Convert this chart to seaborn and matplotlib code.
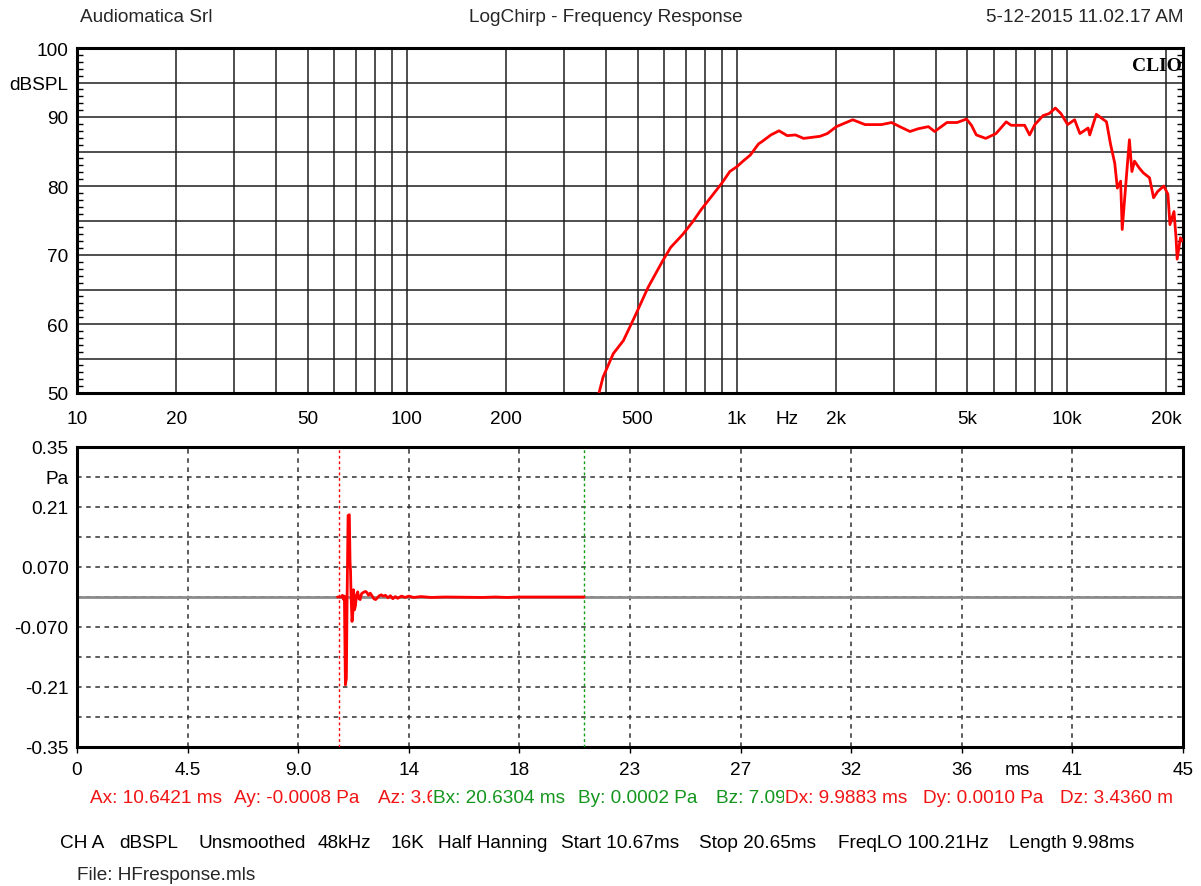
import matplotlib
matplotlib.use("Agg")
import matplotlib.pyplot as plt
import matplotlib.ticker as mticker
import numpy as np
import seaborn as sns

# ---- frequency response (LogChirp) ----
freq_hz = [382, 393, 422, 453, 494, 538, 595, 630, 686, 737, 780, 838, 900, 952,
           1000, 1038, 1099, 1163, 1197, 1268, 1342, 1421, 1505, 1593, 1786, 1880,
           2002, 2245, 2446, 2742, 2944, 3118, 3347, 3545, 3807, 3976, 4330, 4650,
           4966, 5140, 5318, 5680, 6100, 6553, 6780, 7450, 7713, 8003, 8472, 8845,
           9234, 9600, 10058, 10560, 10957, 11600, 11736, 12287, 13193, 13577,
           13974, 14230, 14560, 14720, 15220, 15480, 15750, 16040, 16580, 17060,
           17810, 18320, 18850, 19680, 20250, 20540, 21130, 21430, 21600, 22100,
           22500]
spl_db = [50.0, 52.3, 55.7, 57.6, 61.4, 65.3, 69.1, 71.1, 73.0, 74.9, 76.6, 78.5,
          80.4, 82.1, 82.8, 83.5, 84.5, 86.1, 86.5, 87.4, 88.0, 87.3, 87.4, 86.9,
          87.2, 87.6, 88.6, 89.6, 88.9, 88.9, 89.2, 88.6, 87.9, 88.3, 88.6, 87.9,
          89.2, 89.2, 89.7, 88.8, 87.4, 86.9, 87.6, 89.3, 88.8, 88.8, 87.4, 88.9,
          90.2, 90.5, 91.3, 90.5, 88.9, 89.6, 87.6, 88.4, 87.4, 90.4, 89.3, 86.0,
          83.3, 79.7, 80.7, 73.7, 82.4, 86.7, 82.1, 83.6, 82.6, 81.9, 81.2, 78.3,
          79.2, 80.0, 78.8, 74.4, 76.3, 72.5, 69.4, 72.5, 72.0]

freq_tick_values = [10, 20, 50, 100, 200, 500, 1000, 2000, 5000, 10000, 20000]
freq_tick_labels = ["10", "20", "50", "100", "200", "500", "1k", "2k", "5k", "10k", "20k"]
spl_tick_values = [50, 55, 60, 65, 70, 75, 80, 85, 90, 95, 100]
spl_tick_labels = ["50", "", "60", "", "70", "", "80", "", "90", "dBSPL", "100"]

# ---- impulse response ----
imp_ms = [10.60, 10.75, 10.80, 10.85, 10.88, 10.92, 10.96, 10.99, 11.03, 11.08,
          11.11, 11.13, 11.15, 11.19, 11.22, 11.25, 11.29, 11.33, 11.37, 11.42,
          11.47, 11.52, 11.58, 11.66, 11.74, 11.80, 11.86, 11.93, 12.00, 12.08,
          12.15, 12.22, 12.30, 12.38, 12.47, 12.55, 12.65, 12.75, 12.85, 12.95,
          13.05, 13.20, 13.35, 13.50, 13.70, 14.00, 14.40, 15.00, 16.50, 17.00,
          17.50, 18.00, 20.63]
imp_pa = [0.0, 0.0, 0.004, -0.006, 0.002, -0.205, -0.190, 0.0, 0.190, 0.192,
          0.080, 0.060, 0.005, -0.057, -0.040, 0.017, -0.030, -0.020, 0.004, 0.012,
          -0.004, -0.006, 0.008, 0.011, 0.013, 0.010, 0.004, 0.009, 0.003, -0.004,
          -0.006, -0.002, 0.003, 0.005, 0.002, 0.004, -0.002, 0.003, -0.004, 0.001,
          -0.003, 0.002, -0.001, 0.002, -0.001, 0.001, -0.001, 0.0, -0.001, 0.0,
          -0.001, 0.0, 0.0]

time_tick_values = [0, 4.5, 9.0, 13.5, 18.0, 22.5, 27.0, 31.5, 36.0, 40.5, 45.0]
time_tick_labels = ["0", "4.5", "9.0", "14", "18", "23", "27", "32", "36", "41", "45"]
pa_tick_values = [-0.35, -0.28, -0.21, -0.14, -0.07, 0.0, 0.07, 0.14, 0.21, 0.28, 0.35]
pa_tick_labels = ["-0.35", "", "-0.21", "", "-0.070", "", "0.070", "", "0.21", "Pa", "0.35"]

cursor_a_ms = 10.6421
cursor_b_ms = 20.6304

sns.set_theme(style="white")
plt.rcParams["font.family"] = ["Liberation Sans", "DejaVu Sans"]
FS = 13.7
plt.rcParams["font.size"] = FS

RED = "#ff0000"
TXT_RED = "#f01414"
TXT_GREEN = "#14961e"
W, H = 1201, 887

fig = plt.figure(figsize=(W / 100, H / 100), dpi=100)
fig.patch.set_facecolor("white")


def frac(x, y):
    return x / W, 1 - y / H


ax1 = fig.add_axes([77 / W, 1 - 394 / H, 1106 / W, 345 / H])
ax2 = fig.add_axes([77 / W, 1 - 748 / H, 1106 / W, 300 / H])

# ---------- top panel ----------
ax1.set_xscale("log")
sns.lineplot(x=freq_hz, y=spl_db, ax=ax1, color=RED, lw=2, sort=False,
             estimator=None, zorder=5)
ax1.set_xlim(10, 22500)
ax1.set_ylim(50, 100)
ax1.xaxis.set_major_locator(mticker.FixedLocator(freq_tick_values))
ax1.xaxis.set_major_formatter(mticker.FixedFormatter(freq_tick_labels))
ax1.xaxis.set_minor_locator(mticker.LogLocator(base=10, subs=np.arange(1, 10), numticks=30))
ax1.xaxis.set_minor_formatter(mticker.NullFormatter())
ax1.yaxis.set_major_locator(mticker.FixedLocator(spl_tick_values))
ax1.yaxis.set_major_formatter(mticker.FixedFormatter(spl_tick_labels))
ax1.yaxis.set_minor_locator(mticker.MultipleLocator(1))
ax1.grid(True, which="both", axis="x", color="#1e1e1e", lw=1.1)
ax1.grid(True, which="major", axis="y", color="#1e1e1e", lw=1.1)
ax1.tick_params(axis="x", which="both", length=0, pad=12, labelsize=FS, colors="black")
ax1.tick_params(axis="y", which="major", length=0, pad=6, labelsize=FS, colors="black")
ax1.tick_params(axis="y", which="minor", direction="in", left=True, right=True,
                length=4, width=1, color="black")
ax1.set_xlabel("")
ax1.set_ylabel("")
for s in ax1.spines.values():
    s.set_color("black")
    s.set_linewidth(2.2)
ax1.set_axisbelow(True)
ax1.annotate("Hz", xy=(1420, 0), xycoords=ax1.get_xaxis_transform(),
             xytext=(0, -12), textcoords="offset points", ha="center", va="top",
             fontsize=FS, color="black")
ax1.text(0.999, 0.975, "CLIO", transform=ax1.transAxes, ha="right", va="top",
         fontfamily="Liberation Serif", fontweight="bold", fontsize=14, color="black",
         zorder=6)

# ---------- bottom panel ----------
ax2.axhline(0, color="#8c8c8c", lw=2, zorder=2)
sns.lineplot(x=imp_ms, y=imp_pa, ax=ax2, color=RED, lw=2, sort=False,
             estimator=None, zorder=5)
ax2.axvline(cursor_a_ms, color=RED, lw=1, ls=(0, (2, 2)), zorder=3)
ax2.axvline(cursor_b_ms, color="#10a010", lw=1, ls=(0, (2, 2)), zorder=3)
ax2.set_xlim(0, 45)
ax2.set_ylim(-0.35, 0.35)
ax2.xaxis.set_major_locator(mticker.FixedLocator(time_tick_values))
ax2.xaxis.set_major_formatter(mticker.FixedFormatter(time_tick_labels))
ax2.yaxis.set_major_locator(mticker.FixedLocator(pa_tick_values))
ax2.yaxis.set_major_formatter(mticker.FixedFormatter(pa_tick_labels))
ax2.grid(True, which="major", color="#303030", lw=1.1, ls=(0, (3, 3)))
ax2.tick_params(axis="x", which="major", direction="out", bottom=True, length=4,
                width=1, color="black", pad=6, labelsize=FS, colors="black")
ax2.tick_params(axis="y", which="major", length=0, pad=6, labelsize=FS, colors="black")
ax2.set_xlabel("")
ax2.set_ylabel("")
for s in ax2.spines.values():
    s.set_color("black")
    s.set_linewidth(2.2)
ax2.set_axisbelow(True)
ax2.annotate("ms", xy=(38.25, 0), xycoords=ax2.get_xaxis_transform(),
             xytext=(0, -10), textcoords="offset points", ha="center", va="top",
             fontsize=FS, color="black")

# ---------- header ----------
fig.text(*frac(80, 17), "Audiomatica Srl", ha="left", va="center", fontsize=FS)
fig.text(*frac(606, 17), "LogChirp - Frequency Response", ha="center", va="center", fontsize=FS)
fig.text(*frac(1183, 17), "5-12-2015 11.02.17 AM", ha="right", va="center", fontsize=FS)

# ---------- cursor readout ----------
readout = [
    (90, "Ax: 10.6421 ms", TXT_RED),
    (234, "Ay: -0.0008 Pa", TXT_RED),
    (378, "Az: 3.6", TXT_RED),
    (433, "Bx: 20.6304 ms", TXT_GREEN),
    (578, "By: 0.0002 Pa", TXT_GREEN),
    (716, "Bz: 7.09", TXT_GREEN),
    (785, "Dx: 9.9883 ms", TXT_RED),
    (923, "Dy: 0.0010 Pa", TXT_RED),
    (1060, "Dz: 3.4360 m", TXT_RED),
]
for x, s, c in readout:
    bbox = None
    if s.startswith("Bx") or s.startswith("Dx"):
        bbox = dict(facecolor="white", edgecolor="none", pad=0.5)
    fig.text(*frac(x, 798.5), s, ha="left", va="center", fontsize=FS, color=c, bbox=bbox)

# ---------- acquisition settings ----------
settings = [
    (60, "CH A"), (119, "dBSPL"), (198, "Unsmoothed"), (318, "48kHz"), (391, "16K"),
    (438, "Half Hanning"), (561, "Start 10.67ms"), (699, "Stop 20.65ms"),
    (838, "FreqLO 100.21Hz"), (1009, "Length 9.98ms"),
]
for x, s in settings:
    fig.text(*frac(x, 843.5), s, ha="left", va="center", fontsize=FS, color="black")
fig.text(*frac(77, 876), "File: HFresponse.mls", ha="left", va="center", fontsize=FS)

fig.savefig("out.png", dpi=100, facecolor="white")
